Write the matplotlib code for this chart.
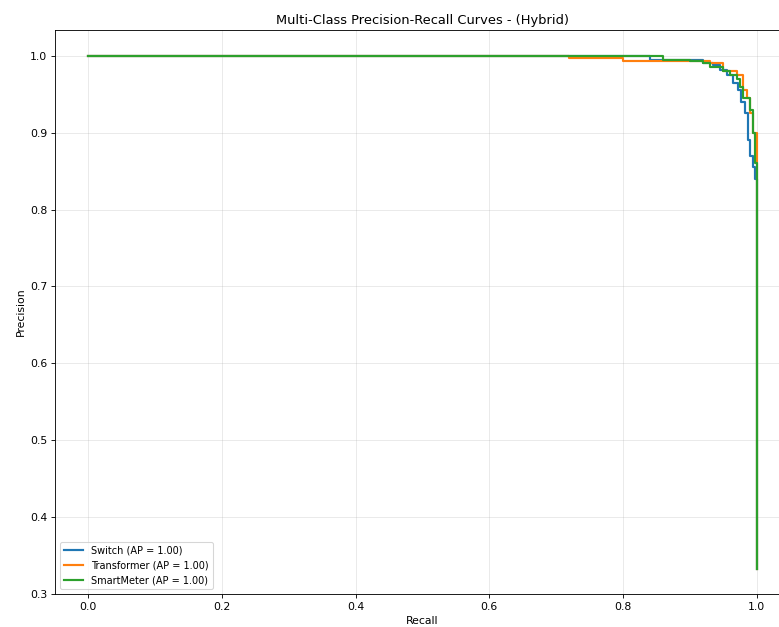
import matplotlib
matplotlib.use("Agg")
import matplotlib.pyplot as plt

classes = ["Switch", "Transformer", "SmartMeter"]
ap_scores = [1.00, 1.00, 1.00]

# recall / precision
recall_switch = [0.0, 0.84, 0.84, 0.90, 0.92, 0.935, 0.945, 0.955, 0.965, 0.972, 0.977, 0.982, 0.987, 0.99, 0.994, 0.997, 1.0, 1.0]
prec_switch = [1.0, 1.0, 0.995, 0.995, 0.991, 0.988, 0.982, 0.975, 0.965, 0.955, 0.94, 0.925, 0.89, 0.87, 0.855, 0.84, 0.79, 0.333]

recall_trans = [0.0, 0.72, 0.72, 0.80, 0.80, 0.87, 0.90, 0.93, 0.95, 0.97, 0.98, 0.985, 0.99, 0.995, 1.0, 1.0]
prec_trans = [1.0, 1.0, 0.997, 0.997, 0.993, 0.993, 0.993, 0.99, 0.98, 0.975, 0.955, 0.945, 0.925, 0.90, 0.85, 0.333]

recall_smart = [0.0, 0.83, 0.86, 0.90, 0.92, 0.93, 0.95, 0.96, 0.97, 0.975, 0.98, 0.99, 0.995, 0.998, 1.0, 1.0]
prec_smart = [1.0, 1.0, 0.995, 0.993, 0.99, 0.985, 0.98, 0.975, 0.97, 0.96, 0.945, 0.93, 0.90, 0.86, 0.84, 0.333]

curves = [(recall_switch, prec_switch), (recall_trans, prec_trans), (recall_smart, prec_smart)]
colors = ["#1f77b4", "#ff7f0e", "#2ca02c"]

fig = plt.figure(figsize=(10, 627 / 77.9), dpi=77.9)
ax = fig.add_axes([0.0706, 0.0526, 0.9435, 0.8995])

for name, ap, (r, p), c in zip(classes, ap_scores, curves, colors):
    ax.plot(r, p, color=c, lw=2, drawstyle="steps-post",
            label="{} (AP = {:.2f})".format(name, ap))

ax.set_xlim(-0.05, 1.05)
ax.set_ylim(0.3, 1.0335)
ax.set_xlabel("Recall")
ax.set_ylabel("Precision")
ax.set_title("Multi-Class Precision-Recall Curves - (Hybrid)")
ax.legend(loc="lower left", fontsize=9)
ax.grid(True, alpha=0.3)

fig.savefig("out.png", dpi=77.9)
